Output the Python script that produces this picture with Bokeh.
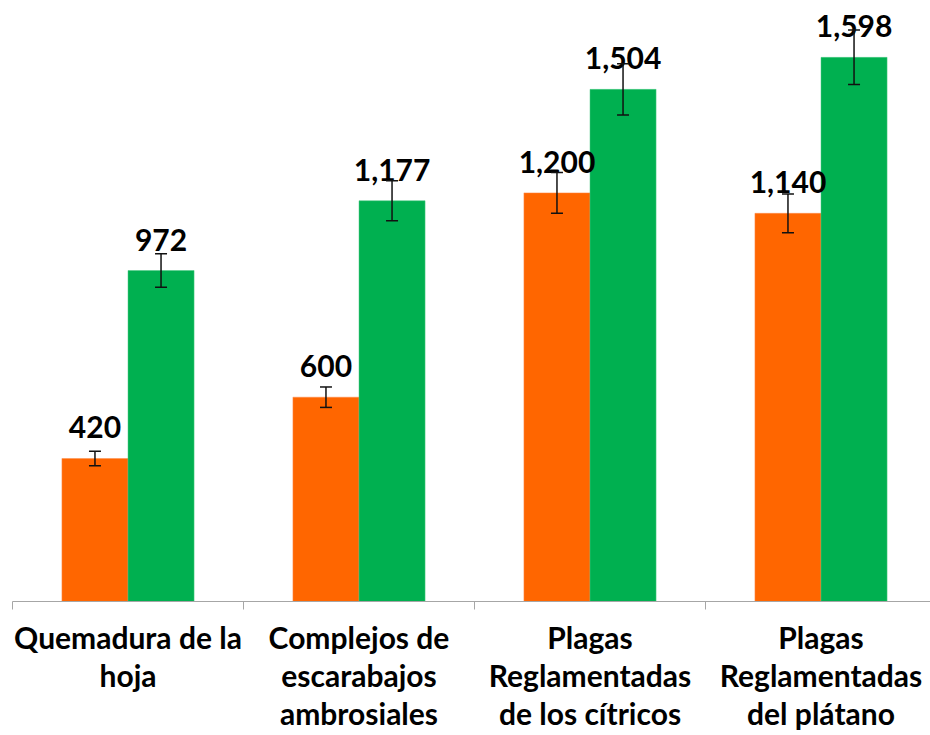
from bokeh.plotting import figure
from bokeh.models import ColumnDataSource, Whisker, TeeHead, FixedTicker, Range1d
from bokeh.core.properties import value
from bokeh.embed import file_html
from bokeh.resources import INLINE

categories = ["Quemadura de la\nhoja", "Complejos de\nescarabajos\nambrosiales",
              "Plagas\nReglamentadas\nde los cítricos", "Plagas\nReglamentadas\ndel plátano"]
serie1 = [420, 600, 1200, 1140]
serie2 = [972, 1177, 1504, 1598]
err1 = [21, 30, 60, 57]
err2 = [49, 59, 75, 80]

BAR_W = 0.286
x1 = [i + 0.5 - BAR_W / 2 for i in range(len(categories))]
x2 = [i + 0.5 + BAR_W / 2 for i in range(len(categories))]

FONT = value("Lato")

p = figure(width=930, height=735, x_range=Range1d(0, 3.974), y_range=Range1d(0, 1765),
           output_backend="svg", toolbar_location=None, y_axis_location=None,
           min_border_left=12, min_border_right=0, min_border_top=0, min_border_bottom=134)
p.outline_line_color = None
p.grid.visible = False

p.vbar(x=x1, top=serie1, width=BAR_W, fill_color="#FF6600", line_color="#FF8A4A", line_width=0.5)
p.vbar(x=x2, top=serie2, width=BAR_W, fill_color="#00B050", line_color="#4CCB85", line_width=0.5)

lab_x = x1 + x2
lab_y = serie1 + serie2
lab_t = ["{:,}".format(v) for v in lab_y]
p.text(x=lab_x, y=lab_y, text=lab_t, text_align="center", text_baseline="alphabetic",
       y_offset=-31, text_font=FONT, text_font_style="bold", text_font_size="30px",
       text_color="black")

for xs, vs, es in ((x1, serie1, err1), (x2, serie2, err2)):
    src = ColumnDataSource(dict(x=xs, lower=[v - e for v, e in zip(vs, es)],
                                upper=[v + e for v, e in zip(vs, es)]))
    w = Whisker(source=src, base="x", lower="lower", upper="upper", level="overlay",
                line_color="#111111", line_width=1.5,
                lower_head=TeeHead(size=12, line_color="#111111", line_width=1.5),
                upper_head=TeeHead(size=12, line_color="#111111", line_width=1.5))
    p.add_layout(w)

ax = p.xaxis[0]
ax.ticker = FixedTicker(ticks=[i + 0.5 for i in range(len(categories))],
                        minor_ticks=list(range(len(categories) + 1)))
ax.major_label_overrides = {i + 0.5: c for i, c in enumerate(categories)}
ax.major_tick_out = 0
ax.major_tick_in = 0
ax.minor_tick_out = 8
ax.minor_tick_in = 0
ax.minor_tick_line_color = "#A6A6A6"
ax.axis_line_color = "#A6A6A6"
ax.axis_line_width = 1
ax.major_label_text_font = "Lato"
ax.major_label_text_font_style = "bold"
ax.major_label_text_font_size = "30px"
ax.major_label_text_color = "black"
ax.major_label_standoff = 9
ax.major_label_text_line_height = 1.06

open("out.html", "w").write(file_html(p, INLINE))
